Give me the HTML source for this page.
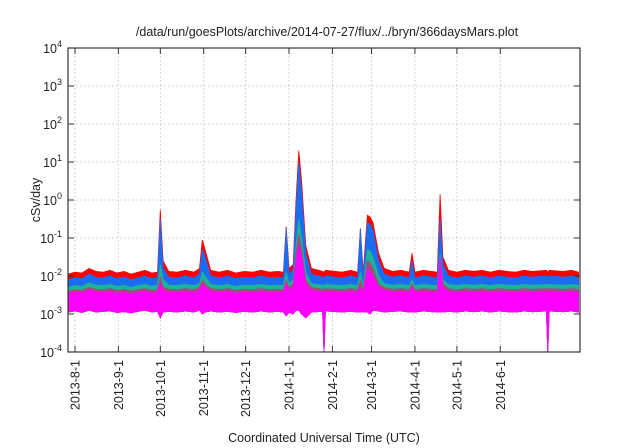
<!DOCTYPE html>
<html><head><meta charset="utf-8"><style>
body{margin:0;background:#fff;}
svg{display:block;font-family:"Liberation Sans",sans-serif;}
</style></head><body>
<svg id="chart" width="640" height="448" viewBox="0 0 640 448" xmlns="http://www.w3.org/2000/svg">
<rect width="640" height="448" fill="#fff"/>
<text x="327" y="36" font-size="12.5" text-anchor="middle" fill="#222">/data/run/goesPlots/archive/2014-07-27/flux/../bryn/366daysMars.plot</text>
<text transform="translate(40,200) rotate(-90)" font-size="12.5" text-anchor="middle" fill="#222">cSv/day</text>
<text x="324" y="442" font-size="12.5" text-anchor="middle" fill="#222">Coordinated Universal Time (UTC)</text>
<g id="grid"></g>
<g id="series"></g>
<g id="axes"></g>
</svg>
<script>
const monthLabels=["2013-8-1","2013-9-1","2013-10-1","2013-11-1","2013-12-1","2014-1-1","2014-2-1","2014-3-1","2014-4-1","2014-5-1","2014-6-1"];
const monthDays=[5,36,66,97,127,158,189,217,248,278,309];
const yExponents=[-4,-3,-2,-1,0,1,2,3,4];
const days=[0,5,10,15,20,25,30,35,40,45,50,55,60,64,66,68,72,78,84,90,94,96,98,102,108,114,120,126,132,138,144,150,154,156,158,161,163,165,167,170,174,182,183,184,196,202,207,209,211,214,216,218,222,226,232,238,244,246,248,254,260,264,266,268,272,278,284,290,296,302,308,314,320,326,332,342,343,344,354,360,365];
const redVals=[-1.95,-1.9,-1.92,-1.8,-1.88,-1.9,-1.85,-1.92,-1.88,-1.95,-1.9,-1.85,-1.92,-1.9,-0.26,-1.6,-1.88,-1.9,-1.85,-1.9,-1.8,-1.05,-1.3,-1.85,-1.9,-1.85,-1.92,-1.88,-1.9,-1.85,-1.9,-1.88,-1.9,-0.7,-1.8,-1.7,0.0,1.3,0.5,-1.2,-1.8,-1.88,-1.9,-1.85,-1.9,-1.85,-1.9,-0.75,-1.9,-0.4,-0.45,-0.6,-1.4,-1.8,-1.88,-1.85,-1.9,-1.4,-1.9,-1.85,-1.88,-1.9,0.15,-1.5,-1.85,-1.9,-1.85,-1.88,-1.85,-1.9,-1.85,-1.88,-1.9,-1.85,-1.88,-1.85,-1.9,-1.85,-1.88,-1.85,-1.9];
const blueVals=[-2.1,-2.05,-2.07,-1.95,-2.03,-2.05,-2.0,-2.07,-2.03,-2.1,-2.05,-2.0,-2.07,-2.05,-0.5,-1.8,-2.03,-2.05,-2.0,-2.05,-1.95,-1.3,-1.5,-2.0,-2.05,-2.0,-2.07,-2.03,-2.05,-2.0,-2.05,-2.03,-2.05,-0.75,-1.95,-1.85,-0.3,1.0,0.2,-1.4,-1.95,-2.03,-2.05,-2.0,-2.05,-2.0,-2.05,-0.75,-2.05,-0.6,-0.65,-0.8,-1.6,-1.95,-2.03,-2.0,-2.05,-1.6,-2.05,-2.0,-2.03,-2.05,-0.5,-1.7,-2.0,-2.05,-2.0,-2.03,-2.0,-2.05,-2.0,-2.03,-2.05,-2.0,-2.03,-2.0,-2.05,-2.0,-2.03,-2.0,-2.05];
const tealVals=[-2.3,-2.25,-2.27,-2.18,-2.24,-2.25,-2.22,-2.27,-2.24,-2.3,-2.25,-2.22,-2.27,-2.25,-1.7,-2.1,-2.24,-2.25,-2.22,-2.25,-2.2,-1.9,-2.0,-2.22,-2.25,-2.22,-2.27,-2.24,-2.25,-2.22,-2.25,-2.24,-2.25,-1.9,-2.2,-2.1,-1.2,-0.5,-1.0,-1.9,-2.2,-2.24,-2.25,-2.22,-2.25,-2.22,-2.25,-1.9,-2.25,-1.3,-1.35,-1.5,-2.0,-2.2,-2.24,-2.22,-2.25,-2.1,-2.25,-2.22,-2.24,-2.25,-1.4,-2.1,-2.22,-2.25,-2.22,-2.24,-2.22,-2.25,-2.22,-2.24,-2.25,-2.22,-2.24,-2.22,-2.25,-2.22,-2.24,-2.22,-2.25];
const brownVals=[-2.4,-2.36,-2.38,-2.3,-2.35,-2.36,-2.33,-2.38,-2.35,-2.4,-2.36,-2.33,-2.38,-2.36,-2.0,-2.3,-2.35,-2.36,-2.33,-2.36,-2.3,-2.1,-2.2,-2.33,-2.36,-2.33,-2.38,-2.35,-2.36,-2.33,-2.36,-2.35,-2.36,-2.1,-2.3,-2.2,-1.4,-0.9,-1.3,-2.1,-2.3,-2.35,-2.36,-2.33,-2.36,-2.33,-2.36,-2.1,-2.36,-1.6,-1.65,-1.8,-2.2,-2.3,-2.35,-2.33,-2.36,-2.2,-2.36,-2.33,-2.35,-2.36,-1.6,-2.2,-2.33,-2.36,-2.33,-2.35,-2.33,-2.36,-2.33,-2.35,-2.36,-2.33,-2.35,-2.33,-2.36,-2.33,-2.35,-2.33,-2.36];
const magTopVals=[-2.45,-2.42,-2.44,-2.36,-2.42,-2.43,-2.4,-2.45,-2.42,-2.47,-2.43,-2.4,-2.45,-2.43,-2.2,-2.38,-2.42,-2.43,-2.4,-2.43,-2.38,-2.2,-2.3,-2.4,-2.43,-2.4,-2.45,-2.42,-2.43,-2.4,-2.43,-2.42,-2.43,-2.2,-2.38,-2.3,-1.6,-1.2,-1.5,-2.2,-2.38,-2.42,-2.43,-2.4,-2.43,-2.4,-2.43,-2.3,-2.43,-1.8,-1.9,-2.0,-2.3,-2.38,-2.42,-2.4,-2.43,-2.3,-2.43,-2.4,-2.42,-2.43,-1.5,-2.3,-2.4,-2.43,-2.4,-2.42,-2.4,-2.43,-2.4,-2.42,-2.43,-2.4,-2.42,-2.4,-2.43,-2.4,-2.42,-2.4,-2.43];
const magBotVals=[-2.95,-2.92,-2.96,-2.9,-2.95,-2.93,-2.92,-2.96,-2.94,-2.97,-2.93,-2.9,-2.95,-2.93,-3.1,-2.95,-2.93,-2.95,-2.92,-2.95,-2.9,-3.0,-2.95,-2.92,-2.95,-2.93,-2.96,-2.93,-2.95,-2.92,-2.95,-2.93,-2.95,-3.05,-2.95,-3.0,-2.9,-2.9,-3.0,-3.1,-2.95,-2.93,-4.0,-2.92,-2.95,-2.93,-2.95,-2.95,-2.95,-2.95,-3.0,-2.9,-2.92,-2.95,-2.93,-2.92,-2.95,-2.95,-2.95,-2.92,-2.94,-2.95,-2.95,-2.95,-2.93,-2.95,-2.92,-2.94,-2.92,-2.95,-2.92,-2.94,-2.95,-2.92,-2.94,-2.92,-4.0,-2.92,-2.94,-2.92,-2.95];

const L=68,R=580,T=48,B=352,NDAYS=366;
const xs=d=>L+d*(R-L)/NDAYS;
const ys=e=>B-(e-(-4))*(B-T)/8;
const NS="http://www.w3.org/2000/svg";
function mk(tag,attrs,parent){const e=document.createElementNS(NS,tag);for(const k in attrs)e.setAttribute(k,attrs[k]);parent.appendChild(e);return e;}
const grid=document.getElementById('grid'),ser=document.getElementById('series'),ax=document.getElementById('axes');

yExponents.forEach(p=>{
  const y=ys(p);
  if(p>-4&&p<4){const g=mk('line',{x1:L,x2:R,y1:y,y2:y,stroke:'#bbb','stroke-width':0.8,'stroke-dasharray':'1.5,2.5'},grid);
  
  }
  const t=mk('text',{x:L-6,y:y+5,'font-size':12.5,'text-anchor':'end',fill:'#222'},ax);
  
  
  t.textContent='10';
  const s=mk('tspan',{'font-size':9,dy:-6},t);s.textContent=String(p);
  mk('line',{x1:L,x2:L+6,y1:y,y2:y,stroke:'#333'},ax);
  mk('line',{x1:R,x2:R-6,y1:y,y2:y,stroke:'#333'},ax);
});
monthDays.forEach((d,i)=>{
  const x=xs(d);
  const g=mk('line',{x1:x,x2:x,y1:T,y2:B,stroke:'#bbb','stroke-width':0.8,'stroke-dasharray':'1.5,2.5'},grid);
  
  
  mk('line',{x1:x,x2:x,y1:B,y2:B-6,stroke:'#333'},ax);
  mk('line',{x1:x,x2:x,y1:T,y2:T+6,stroke:'#333'},ax);
  const t=mk('text',{transform:`translate(${x+4.5},${B+8}) rotate(-90)`,'font-size':12.5,'text-anchor':'end',fill:'#222'},ax);
  
  
  t.textContent=monthLabels[i];
});
function band(top,bot,color,name){
  let pts=days.map((d,i)=>xs(d).toFixed(1)+','+ys(top[i]).toFixed(1));
  for(let i=days.length-1;i>=0;i--)pts.push(xs(days[i]).toFixed(1)+','+ys(bot[i]).toFixed(1));
  const p=mk('polygon',{points:pts.join(' '),fill:color,stroke:color,'stroke-width':0.8},ser);
  
  
}
band(redVals,magBotVals,'#ff0000','series-red');
band(blueVals,magBotVals,'#1a6cf0','series-blue');
band(tealVals,magBotVals,'#1ab49a','series-teal');
band(brownVals,magBotVals,'#a04e78','series-brown');
band(magTopVals,magBotVals,'#ff00ff','series-magenta');
const fr=mk('rect',{x:L,y:T,width:R-L,height:B-T,fill:'none',stroke:'#333','stroke-width':1.2},ax);


</script>
</body></html>
